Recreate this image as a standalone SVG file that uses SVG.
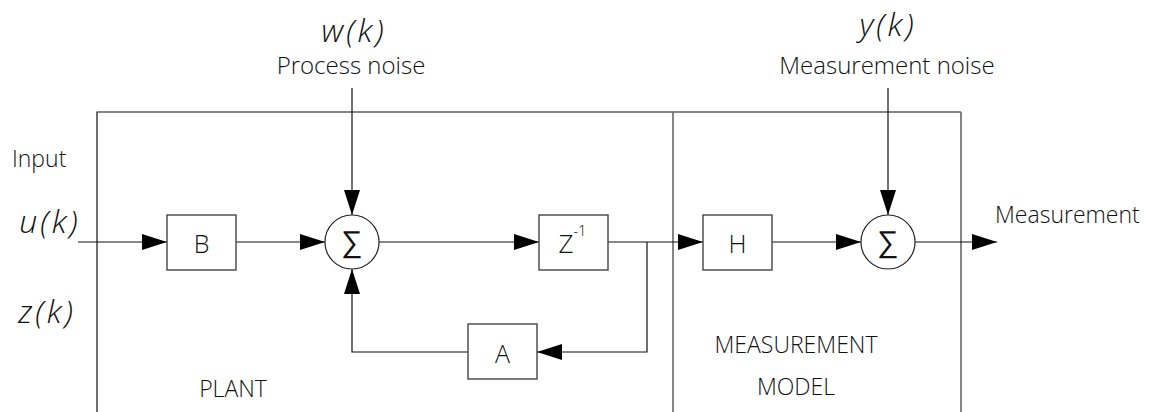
<svg xmlns="http://www.w3.org/2000/svg" width="1164" height="412" viewBox="0 0 1164 412">
<style>
.t{font-family:"Open Sans","Liberation Sans",sans-serif;font-weight:300;fill:#111}
.m{font-family:"Open Sans","Liberation Sans",sans-serif;font-weight:300;font-style:italic;font-size:32px;letter-spacing:3px;fill:#111}
.box{fill:#fff;stroke:#444;stroke-width:1.4}
.sum{fill:#fff;stroke:#222;stroke-width:1.2}
.ln{fill:none;stroke:#111;stroke-width:1.2}
.frame{fill:none;stroke:#111;stroke-width:1.2}
.div{fill:none;stroke:#666;stroke-width:1.6}
.sig{font-family:"DejaVu Sans",sans-serif;font-weight:200;font-size:30px;fill:#111}
</style>
<defs>
<marker id="ah" markerWidth="25" markerHeight="16" refX="25" refY="8" orient="auto" markerUnits="userSpaceOnUse">
<path d="M0,0 L25,8 L0,16 Z" fill="#000"/>
</marker>
</defs>
<g id="frame">
<path class="frame" d="M97,412 V112 H961"/>
<path class="div" d="M673,112 V412"/>
<path class="div" d="M961,112 V412"/>
</g>
<g id="connectors">
<path class="ln" d="M78,242 H167" marker-end="url(#ah)"/>
<path class="ln" d="M236,242 H325" marker-end="url(#ah)"/>
<path class="ln" d="M352,88 V215" marker-end="url(#ah)"/>
<path class="ln" d="M379,242 H539" marker-end="url(#ah)"/>
<path class="ln" d="M608,242 H703" marker-end="url(#ah)"/>
<path class="ln" d="M647,242 V352 H537" marker-end="url(#ah)"/>
<path class="ln" d="M468,352 H352 V269" marker-end="url(#ah)"/>
<path class="ln" d="M772,242 H861" marker-end="url(#ah)"/>
<path class="ln" d="M888,88 V215" marker-end="url(#ah)"/>
<path class="ln" d="M915,242 H997" marker-end="url(#ah)"/>
</g>
<g id="B"><rect class="box" x="167" y="215" width="69" height="55"/><text class="t" x="201.5" y="253" font-size="25" text-anchor="middle">B</text></g>
<g id="sum1"><circle class="sum" cx="352" cy="242" r="27"/><text class="sig" x="352" y="252" text-anchor="middle">∑</text></g>
<g id="Zinv"><rect class="box" x="539" y="215" width="69" height="55"/><text class="t" x="566" y="253" font-size="26" text-anchor="middle">Z</text><text class="t" x="580" y="236" font-size="15" text-anchor="middle">-1</text></g>
<g id="A"><rect class="box" x="468" y="324" width="69" height="55"/><text class="t" x="502.5" y="363" font-size="25" text-anchor="middle">A</text></g>
<g id="H"><rect class="box" x="703" y="215" width="69" height="55"/><text class="t" x="737.5" y="253" font-size="25" text-anchor="middle">H</text></g>
<g id="sum2"><circle class="sum" cx="888" cy="242" r="27"/><text class="sig" x="888" y="252" text-anchor="middle">∑</text></g>
<g id="labels">
<text class="m" x="354" y="42" text-anchor="middle">w(k)</text>
<text class="t" x="351" y="74" font-size="24" text-anchor="middle">Process noise</text>
<text class="m" x="888" y="36" text-anchor="middle">y(k)</text>
<text class="t" x="887" y="74" font-size="24" text-anchor="middle">Measurement noise</text>
<text class="t" x="12" y="167" font-size="23">Input</text>
<text class="m" x="50" y="233" text-anchor="middle">u(k)</text>
<text class="m" x="47" y="323" text-anchor="middle">z(k)</text>
<text class="t" x="233" y="397" font-size="23" text-anchor="middle">PLANT</text>
<text class="t" x="796" y="353" font-size="23" text-anchor="middle">MEASUREMENT</text>
<text class="t" x="796" y="395" font-size="23" text-anchor="middle">MODEL</text>
<text class="t" x="995" y="223" font-size="23">Measurement</text>
</g>
</svg>
